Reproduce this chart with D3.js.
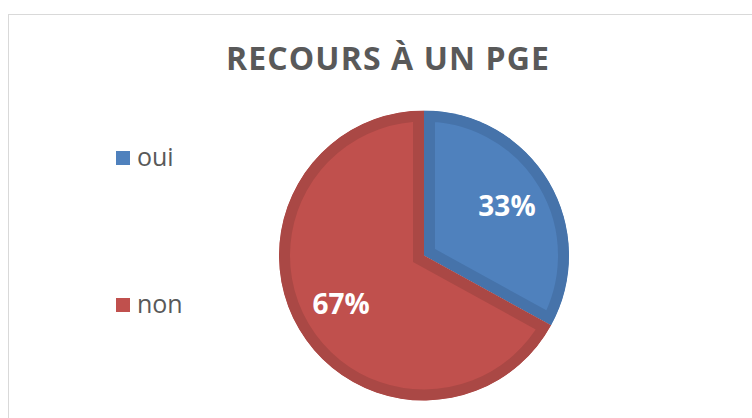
<!DOCTYPE html>
<html><head><meta charset="utf-8">
<script src="https://cdn.jsdelivr.net/npm/d3@7"></script>
<style>body{margin:0;background:#fff}svg{display:block}</style>
</head><body>
<script>
const categories = ["oui", "non"];
const values = [33, 67];
const labels = ["33%", "67%"];
const fills = ["#4F81BD", "#C0504D"];
const bands = ["#4673AA", "#AA4845"];

const W = 752, H = 418;
const svg = d3.select("body").append("svg").attr("width", W).attr("height", H);
svg.append("rect").attr("x", 8.5).attr("y", 14.5).attr("width", W).attr("height", H)
  .attr("fill", "#fff").attr("stroke", "#D9D9D9").attr("stroke-width", 1);

const title = svg.append("text").attr("x", 387.5).attr("y", 70).attr("text-anchor", "middle")
  .attr("font-family", "Open Sans, sans-serif").attr("font-weight", "bold")
  .attr("font-size", 32).attr("fill", "#595959").text("RECOURS À UN PGE");
{
  const len = title.node().getComputedTextLength();
  const n = "RECOURS À UN PGE".length;
  const ls = Math.max(0, (323 - len) / (n - 1));
  title.attr("letter-spacing", ls).attr("x", 387.5 + ls / 2);
}

const cx = 424, cy = 255.5, r = 145;
const pie = d3.pie().sort(null).value(d => d);
const arc = d3.arc().innerRadius(0).outerRadius(r);
const arcs = pie(values);
const g = svg.append("g").attr("transform", `translate(${cx},${cy})`);
const defs = svg.append("defs");
arcs.forEach((a, i) => {
  defs.append("clipPath").attr("id", "clip" + i).append("path").attr("d", arc(a));
  g.append("path").attr("d", arc(a)).attr("fill", fills[i])
    .attr("stroke", bands[i]).attr("stroke-width", 22).attr("stroke-linejoin", "miter")
    .attr("clip-path", `url(#clip${i})`);
});
const labelArc = d3.arc().innerRadius(r * 0.665).outerRadius(r * 0.665);
arcs.forEach((a, i) => {
  const c = labelArc.centroid(a);
  g.append("text").attr("x", c[0]).attr("y", c[1]).attr("dy", "0.35em")
    .attr("text-anchor", "middle").attr("font-family", "Open Sans, sans-serif")
    .attr("font-weight", "bold").attr("font-size", 28).attr("fill", "#fff").text(labels[i]);
});

const legY = [158, 305];
categories.forEach((c, i) => {
  svg.append("rect").attr("x", 116).attr("y", legY[i] - 7).attr("width", 14).attr("height", 14)
    .attr("fill", fills[i]);
  svg.append("text").attr("x", 137).attr("y", legY[i]).attr("dy", "0.33em")
    .attr("font-family", "Open Sans, sans-serif").attr("font-size", 25)
    .attr("fill", "#595959").text(c);
});
</script>
</body></html>
